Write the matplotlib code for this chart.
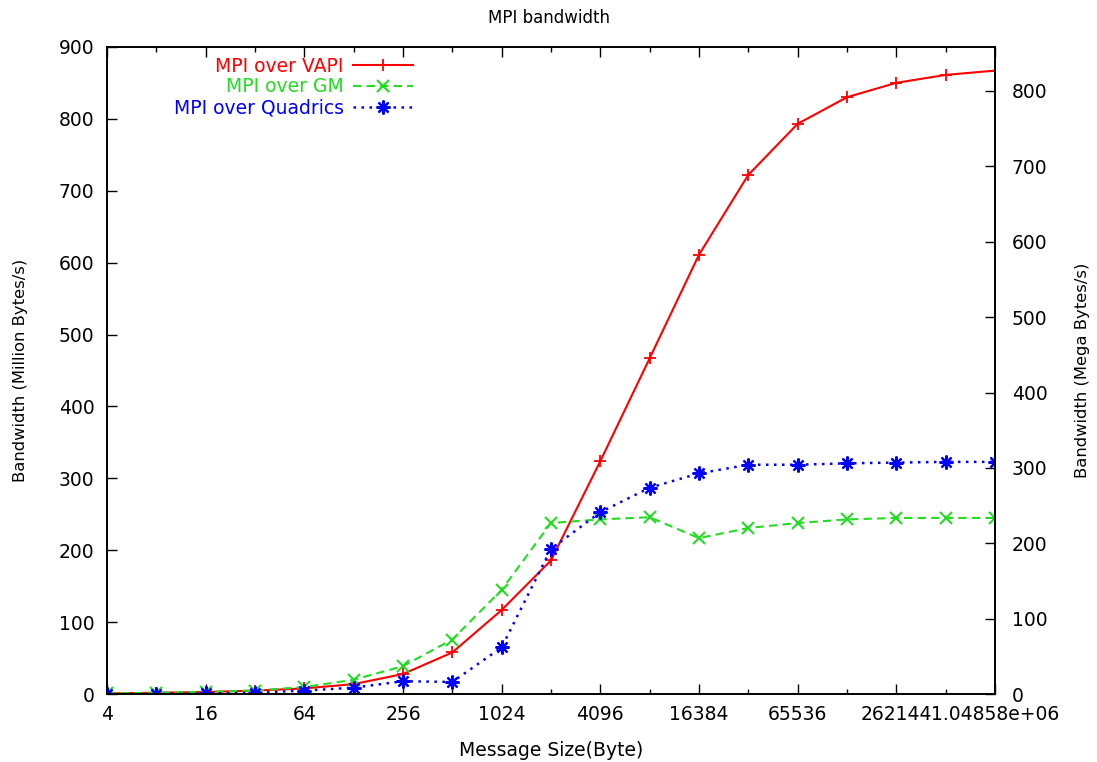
import matplotlib
matplotlib.use("Agg")
import matplotlib.pyplot as plt
from matplotlib.ticker import FixedLocator, FixedFormatter, NullFormatter

# message sizes (bytes) and measured bandwidth in million bytes/s
sizes = [4, 8, 16, 32, 64, 128, 256, 512, 1024, 2048, 4096, 8192,
         16384, 32768, 65536, 131072, 262144, 524288, 1048576]
vapi = [1, 2, 3, 5, 8, 14, 28, 58, 117, 186, 324, 467,
        611, 722, 793, 830, 850, 861, 867]
gm = [1, 2, 3, 5, 10, 20, 39, 76, 145, 238, 243, 246,
      217, 231, 238, 243, 245, 245, 245]
quadrics = [0, 0, 1, 2, 5, 9, 18, 17, 65, 202, 253, 287,
            307, 319, 319, 321, 322, 323, 323]

major_ticks = [4, 16, 64, 256, 1024, 4096, 16384, 65536, 262144, 1048576]
major_labels = ["4", "16", "64", "256", "1024", "4096", "16384", "65536",
                "262144", "1.04858e+06"]
minor_ticks = [8, 32, 128, 512, 2048, 8192, 32768, 131072, 524288]
right_ticks = [0, 100, 200, 300, 400, 500, 600, 700, 800]

plt.rcParams["font.family"] = "DejaVu Sans"

fig = plt.figure(figsize=(10.97, 7.62), dpi=100)
ax = fig.add_axes([0.0975, 0.089, 0.8095, 0.8495])

ax.plot(sizes, vapi, color="#ff0000", lw=1.5, ls="-", marker="+",
        ms=9, mew=1.3, label="MPI over VAPI")
ax.plot(sizes, gm, color="#22dd22", lw=1.5, ls=(0, (4, 2.5)), marker="x",
        ms=8, mew=1.5, label="MPI over GM")
ax.plot(sizes, quadrics, color="#0000ff", lw=1.8, ls=(0, (1, 2.2)),
        marker=(8, 2, 0), ms=10, mew=1.6, label="MPI over Quadrics")

ax.set_xscale("log", base=2)
ax.set_xlim(4, 1048576)
ax.set_ylim(0, 900)
ax.xaxis.set_major_locator(FixedLocator(major_ticks))
ax.xaxis.set_major_formatter(FixedFormatter(major_labels))
ax.xaxis.set_minor_locator(FixedLocator(minor_ticks))
ax.xaxis.set_minor_formatter(NullFormatter())
ax.set_yticks(range(0, 901, 100))

ax.tick_params(axis="x", which="major", direction="in", top=True,
               length=7, width=1, labelsize=13.5, pad=8)
ax.tick_params(axis="x", which="minor", direction="in", top=True,
               length=3.5, width=1)
ax.tick_params(axis="y", direction="in", length=7, width=1,
               labelsize=13.5, pad=9, right=False)

ax2 = ax.twinx()
ax2.set_ylim(0, 900 / 1.048576)
ax2.set_yticks(right_ticks)
ax2.tick_params(axis="y", direction="in", length=7, width=1,
                labelsize=13.5, pad=12)

for a in (ax, ax2):
    for s in a.spines.values():
        s.set_linewidth(1.2)

ax.set_xlabel("Message Size(Byte)", fontsize=13.5, labelpad=12)
ax.set_ylabel("Bandwidth (Million Bytes/s)", fontsize=11.8, labelpad=22)
ax2.set_ylabel("Bandwidth (Mega Bytes/s)", fontsize=11.8, labelpad=20)
fig.text(0.5, 0.988, "MPI bandwidth", ha="center", va="top", fontsize=12)

ax.legend(loc="upper left", bbox_to_anchor=(0.054, 1.014), frameon=False,
          markerfirst=False, labelcolor="linecolor", fontsize=13.5,
          handlelength=3.2, handletextpad=0.5, labelspacing=0.1,
          borderaxespad=0.6)

fig.savefig("out.png", dpi=100, facecolor="white")
